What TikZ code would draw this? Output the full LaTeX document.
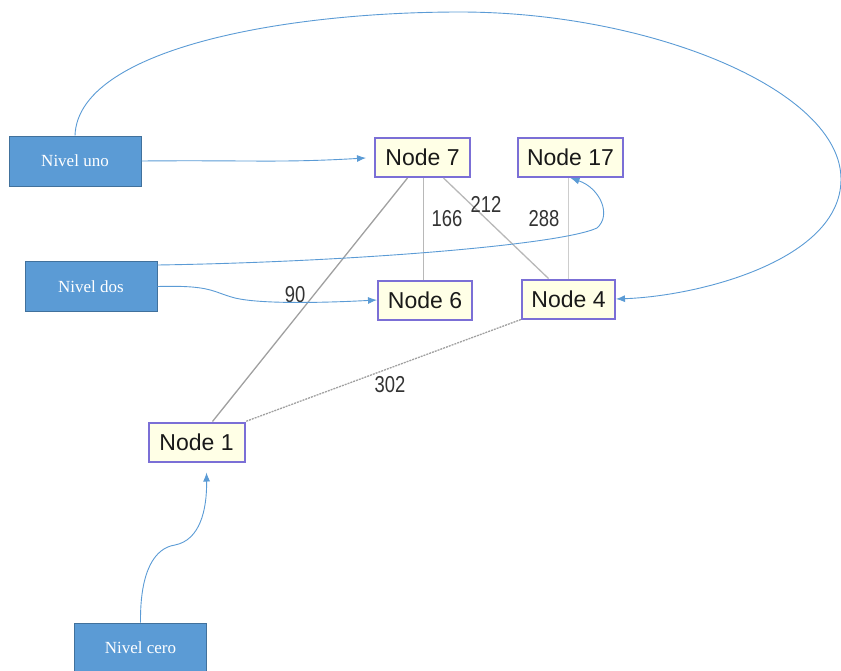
\documentclass[tikz,border=0pt]{standalone}
\usepackage{fontspec}
\setmainfont{Liberation Serif}
\newfontfamily\labelfont{Liberation Sans}
\usetikzlibrary{arrows.meta}
\definecolor{levelblue}{HTML}{5B9BD5}
\definecolor{leveledge}{HTML}{41719C}
\definecolor{linkblue}{HTML}{5B9BD5}
\definecolor{nodeframe}{HTML}{7B6FD6}
\definecolor{nodefill}{HTML}{FFFFE6}
\definecolor{edgegray}{HTML}{B8B8B8}
\definecolor{edgedark}{HTML}{A0A0A0}

\begin{document}
\begin{tikzpicture}[x=1pt,y=-1pt,
  level/.style={draw=leveledge, line width=1pt, fill=levelblue, text=white,
    font=\fontsize{17}{20}\selectfont, minimum width=132pt, minimum height=50pt, inner sep=0pt},
  graphnode/.style={draw=nodeframe, line width=2pt, fill=nodefill,
    font=\labelfont\fontsize{23}{26}\selectfont, text=black!90, minimum height=39pt, inner sep=0pt},
  weight/.style={font=\labelfont\fontsize{23}{26}\selectfont, text=black!80, xscale=0.8, inner sep=0pt},
  link/.style={draw=linkblue, line width=0.9pt, -{Latex[length=9pt,width=7pt]}},
  edge/.style={draw=edgegray, line width=1.3pt},
]
\useasboundingbox (0,0) rectangle (841,670);

% level boxes
\node[level] (nu) at (75,161) {Nivel uno};
\node[level] (nd) at (91,286.5) {Nivel dos};
\node[level] (nc) at (140.5,648) {Nivel cero};

% graph nodes
\node[graphnode, minimum width=95pt]  (n7)  at (422.5,157.5) {Node 7};
\node[graphnode, minimum width=105pt] (n17) at (570.5,157.5) {Node 17};
\node[graphnode, minimum width=94pt]  (n6)  at (425,300) {Node 6};
\node[graphnode, minimum width=93pt]  (n4)  at (568.5,299) {Node 4};
\node[graphnode, minimum width=96pt]  (n1)  at (196.5,442) {Node 1};

% weighted edges
\draw[edge, draw=edgedark] ([xshift=-15pt]n7.south) -- ([xshift=16pt]n1.north);
\draw[edge] ([xshift=1pt]n7.south) -- ([xshift=1pt]n7.south |- n6.north);
\draw[edge] ([xshift=21pt]n7.south) -- ([xshift=-20pt]n4.north);
\draw[edge, draw=edgegray!70] (n4.north) -- (n4.north |- n17.south);
\draw[edge, draw=edgedark, dash pattern=on 2pt off 1pt] (n4.south west) -- (n1.north east);

\node[weight] (w166) at (447,219) {166};
\node[weight] (w212) at (486,204) {212};
\node[weight] (w288) at (544,219) {288};
\node[weight] (w90)  at (295,295) {90};
\node[weight] (w302) at (390,385) {302};

% level links
\draw[link, shorten >=8pt] (nu.east) .. controls (250,160) and (280,163) .. (n7.west);
\draw[link] (nu.north) .. controls (78,50) and (280,12) .. (460,12)
  .. controls (650,12) and (842,90) .. (841,180)
  .. controls (840,260) and (700,296) .. (n4.east);
\draw[link] ([yshift=-4pt]nd.north east) .. controls (350,262) and (560,245) .. (597,228)
  .. controls (612,215) and (600,188) .. (n17.south);
\draw[link] (nd.east) .. controls (212,285) and (212,292) .. (235,298)
  .. controls (260,304) and (320,303) .. (n6.west);
\draw[link] (nc.north) .. controls (140,570) and (155,548) .. (175,545)
  .. controls (200,540) and (207,510) .. ([xshift=10pt,yshift=-10pt]n1.south);
\end{tikzpicture}
\end{document}
